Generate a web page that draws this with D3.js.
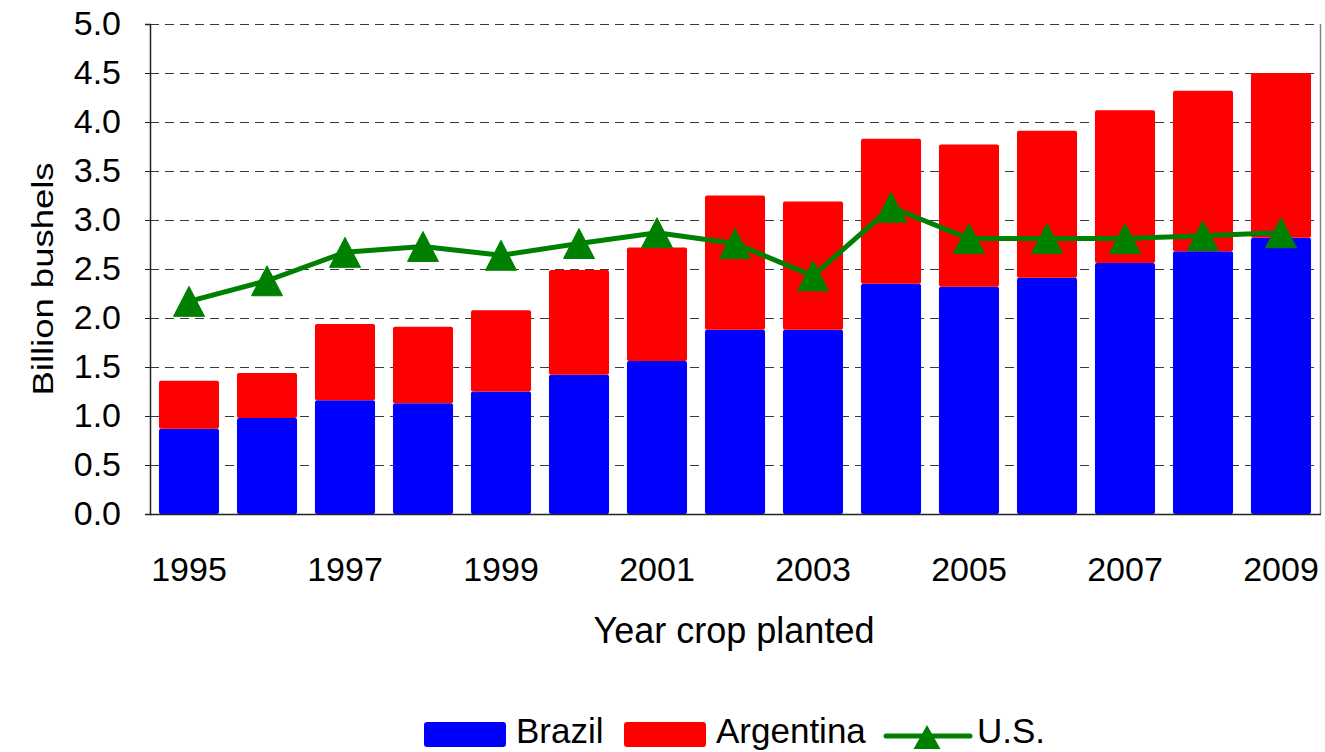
<!DOCTYPE html>
<html>
<head>
<meta charset="utf-8">
<script src="https://cdn.jsdelivr.net/npm/d3@7"></script>
<style>
  html, body { margin: 0; padding: 0; background: #fff; }
  svg { display: block; font-family: "Liberation Sans", Arial, sans-serif; }
</style>
</head>
<body>
<svg id="chart" width="1325" height="752"></svg>
<script>
// Soybean production, billion bushels, by year the crop was planted
const years = [1995, 1996, 1997, 1998, 1999, 2000, 2001, 2002, 2003, 2004, 2005, 2006, 2007, 2008, 2009];
const brazil = [0.87, 0.98, 1.16, 1.13, 1.25, 1.42, 1.56, 1.88, 1.88, 2.35, 2.32, 2.41, 2.56, 2.68, 2.82];
const argentina = [0.49, 0.46, 0.78, 0.78, 0.83, 1.07, 1.16, 1.37, 1.31, 1.48, 1.45, 1.50, 1.56, 1.64, 1.68];
const us = [2.17, 2.38, 2.67, 2.73, 2.64, 2.76, 2.87, 2.76, 2.43, 3.13, 2.81, 2.81, 2.81, 2.84, 2.87];
const yTicks = [0, 0.5, 1.0, 1.5, 2.0, 2.5, 3.0, 3.5, 4.0, 4.5, 5.0];
const xLabelYears = [1995, 1997, 1999, 2001, 2003, 2005, 2007, 2009];

const colors = { brazil: "#0000ff", argentina: "#ff0000", us: "#008000" };

const svg = d3.select("#chart");
const plot = { left: 150, right: 1320, top: 24, bottom: 514 };

const x = d3.scaleBand()
  .domain(years)
  .range([plot.left, plot.right])
  .paddingInner(0.23)
  .paddingOuter(0.115);

const y = d3.scaleLinear().domain([0, 5]).range([plot.bottom, plot.top]);

// Dashed horizontal gridlines
svg.append("g")
  .selectAll("line")
  .data(yTicks.filter(d => d > 0))
  .join("line")
  .attr("x1", plot.left)
  .attr("x2", plot.right)
  .attr("y1", d => Math.round(y(d)) + 0.5)
  .attr("y2", d => Math.round(y(d)) + 0.5)
  .attr("stroke", "#3a3a3a")
  .attr("stroke-width", 1)
  .attr("stroke-dasharray", "9,6");

// Stacked bars: Brazil at the bottom, Argentina on top
const stackData = years.map((yr, i) => ({ year: yr, brazil: brazil[i], argentina: argentina[i] }));
const stack = d3.stack().keys(["brazil", "argentina"])(stackData);

svg.append("g")
  .selectAll("g")
  .data(stack)
  .join("g")
  .attr("fill", d => colors[d.key])
  .selectAll("rect")
  .data(d => d)
  .join("rect")
  .attr("x", d => x(d.data.year))
  .attr("width", x.bandwidth())
  .attr("y", d => y(d[1]))
  .attr("height", d => y(d[0]) - y(d[1]))
  .attr("rx", 2);

// Plot frame: right edge and axis lines
svg.append("line")
  .attr("x1", plot.right + 0.5).attr("x2", plot.right + 0.5)
  .attr("y1", plot.top).attr("y2", plot.bottom)
  .attr("stroke", "#808080").attr("stroke-width", 1.5);

const yAxis = d3.axisLeft(y)
  .tickValues(yTicks)
  .tickFormat(d3.format(".1f"))
  .tickSize(5)
  .tickPadding(24);

const gy = svg.append("g")
  .attr("transform", `translate(${plot.left},0)`)
  .call(yAxis);
gy.select(".domain").attr("stroke", "#222").attr("stroke-width", 1.5);
gy.selectAll(".tick line").attr("stroke", "#222");
gy.selectAll(".tick text")
  .attr("font-size", 34)
  .attr("fill", "#000")
  .attr("font-family", "Liberation Sans, Arial, sans-serif");

// Bottom axis line
svg.append("line")
  .attr("x1", plot.left).attr("x2", plot.right + 1)
  .attr("y1", plot.bottom + 0.5).attr("y2", plot.bottom + 0.5)
  .attr("stroke", "#222").attr("stroke-width", 1.5);

// Year labels (every other year)
svg.append("g")
  .selectAll("text")
  .data(xLabelYears)
  .join("text")
  .attr("x", d => x(d) + x.bandwidth() / 2)
  .attr("y", 581)
  .attr("text-anchor", "middle")
  .attr("font-size", 34)
  .text(d => d);

// U.S. line with triangle markers
const cx = (d, i) => x(years[i]) + x.bandwidth() / 2;
const line = d3.line().x((d, i) => cx(d, i)).y(d => y(d));

svg.append("path")
  .datum(us)
  .attr("d", line)
  .attr("fill", "none")
  .attr("stroke", colors.us)
  .attr("stroke-width", 5)
  .attr("stroke-linejoin", "round");

const tri = "M0,-15 L15.5,15 L-15.5,15 Z";
svg.append("g")
  .selectAll("path")
  .data(us)
  .join("path")
  .attr("transform", (d, i) => `translate(${cx(d, i)},${y(d)})`)
  .attr("d", tri)
  .attr("fill", colors.us)
  .attr("stroke", colors.us)
  .attr("stroke-width", 1)
  .attr("stroke-linejoin", "round");

// Axis titles
svg.append("text")
  .attr("x", 734)
  .attr("y", 643)
  .attr("text-anchor", "middle")
  .attr("font-size", 36)
  .text("Year crop planted");

svg.append("text")
  .attr("transform", "translate(53,279) rotate(-90)")
  .attr("text-anchor", "middle")
  .attr("font-size", 29)
  .attr("textLength", 233)
  .attr("lengthAdjust", "spacingAndGlyphs")
  .text("Billion bushels");

// Legend
const legend = svg.append("g").attr("font-size", 35);
legend.append("rect").attr("x", 424).attr("y", 722).attr("width", 82).attr("height", 25).attr("rx", 3).attr("fill", colors.brazil);
legend.append("text").attr("x", 516).attr("y", 743).text("Brazil");
legend.append("rect").attr("x", 624).attr("y", 722).attr("width", 82).attr("height", 25).attr("rx", 3).attr("fill", colors.argentina);
legend.append("text").attr("x", 716).attr("y", 743).text("Argentina");
legend.append("line").attr("x1", 886).attr("x2", 970).attr("y1", 736).attr("y2", 736)
  .attr("stroke", colors.us).attr("stroke-width", 5).attr("stroke-linecap", "round");
legend.append("path").attr("transform", "translate(927,737)").attr("d", "M0,-12 L13.5,12 L-13.5,12 Z").attr("fill", colors.us);
legend.append("text").attr("x", 977).attr("y", 743).text("U.S.");
</script>
</body>
</html>
